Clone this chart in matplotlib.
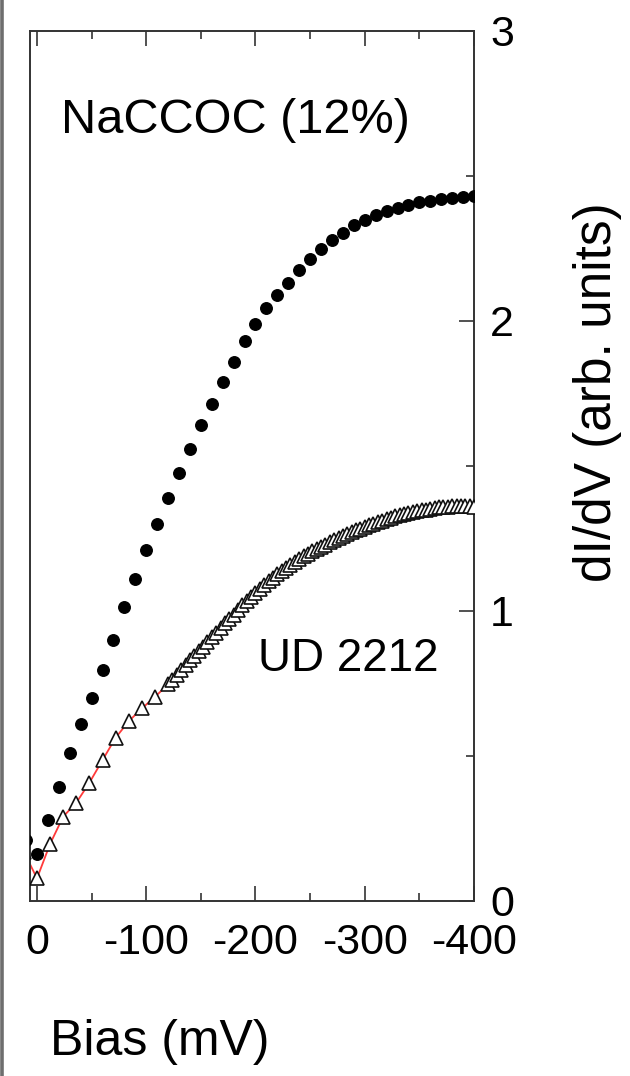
import matplotlib
matplotlib.use("Agg")
import matplotlib.pyplot as plt
from matplotlib.lines import Line2D

# ---------------- data ----------------
# NaCCOC (12%) : filled circles, bias in mV
nacc_bias = [10, 0, -10, -20, -30, -40, -50, -60, -70, -80, -90, -100, -110, -120,
             -130, -140, -150, -160, -170, -180, -190, -200, -210, -220, -230,
             -240, -250, -260, -270, -280, -290, -300, -310, -320, -330, -340,
             -350, -360, -370, -380, -390, -400]
nacc_val = [0.21, 0.161, 0.281, 0.394, 0.512, 0.61, 0.70, 0.795, 0.90, 1.015, 1.11,
            1.21, 1.30, 1.39, 1.475, 1.56, 1.64, 1.715, 1.79, 1.86, 1.93, 1.99,
            2.045, 2.09, 2.13, 2.175, 2.215, 2.25, 2.28, 2.305, 2.33, 2.35, 2.365,
            2.38, 2.39, 2.40, 2.41, 2.415, 2.42, 2.425, 2.428, 2.43]

# UD 2212 : open triangles joined by a red line
ud_bias = [12, 0, -12, -24, -36, -48, -60, -72, -84, -96, -108, -120,
           -124, -128, -132, -136, -140, -144, -148, -152, -156, -160, -164,
           -168, -172, -176, -180, -184, -188, -192, -196, -200, -204, -208,
           -212, -216, -220, -224, -228, -232, -236, -240, -244, -248, -252,
           -256, -260, -264, -268, -272, -276, -280, -284, -288, -292, -296,
           -300, -304, -308, -312, -316, -320, -324, -328, -332, -336, -340,
           -344, -348, -352, -356, -360, -364, -368, -372, -376, -380, -384,
           -388, -392, -396, -400]
ud_val = [0.17, 0.078, 0.197, 0.291, 0.339, 0.408, 0.486, 0.563, 0.62, 0.664, 0.704, 0.747,
          0.762, 0.779, 0.796, 0.813, 0.830, 0.846, 0.862, 0.877, 0.892, 0.909, 0.925,
          0.941, 0.957, 0.972, 0.987, 1.004, 1.020, 1.035, 1.049, 1.063, 1.077, 1.090,
          1.103, 1.115, 1.127, 1.138, 1.149, 1.159, 1.169, 1.179, 1.189, 1.198, 1.206,
          1.214, 1.222, 1.229, 1.237, 1.244, 1.251, 1.258, 1.265, 1.272, 1.278, 1.284,
          1.290, 1.296, 1.301, 1.306, 1.311, 1.316, 1.321, 1.326, 1.330, 1.334, 1.338,
          1.341, 1.344, 1.347, 1.350, 1.353, 1.355, 1.357, 1.359, 1.360, 1.361, 1.362,
          1.362, 1.362, 1.361, 1.360]

x_major = [0, -100, -200, -300, -400]
x_major_labels = ["0", "-100", "-200", "-300", "-400"]
x_minor = [-50, -150, -250, -350]
y_major = [0, 1, 2, 3]
y_major_labels = ["0", "1", "2", "3"]
y_minor = [0.5, 1.5, 2.5]

label_nacc = "NaCCOC (12%)"
label_ud = "UD 2212"
xlabel = "Bias (mV)"
ylabel = "dI/dV (arb. units)"

# ---------------- figure ----------------
plt.rcParams["font.family"] = ["Liberation Sans", "DejaVu Sans"]

W, H = 630, 1076
fig = plt.figure(figsize=(W / 100, H / 100), dpi=100)
L, R, T, B = 30, 474, 31, 901
ax = fig.add_axes([L / W, 1 - B / H, (R - L) / W, (B - T) / H])

ax.plot(ud_bias, ud_val, color="#ff3a3a", lw=1.3, zorder=2)
ax.plot(ud_bias, ud_val, ls="none", marker="^", ms=10, mfc="white",
        mec="#111111", mew=1.2, zorder=3)
ax.plot(nacc_bias, nacc_val, ls="none", marker="o", ms=8.3, mfc="black",
        mec="black", zorder=4)

ax.set_xlim(6.4, -400)
ax.set_ylim(0, 3)

ax.set_xticks(x_major)
ax.set_xticklabels(x_major_labels)
ax.set_xticks(x_minor, minor=True)
ax.set_yticks(y_major)
ax.set_yticklabels(y_major_labels)
ax.set_yticks(y_minor, minor=True)

ax.yaxis.tick_right()
ax.tick_params(axis="both", which="both", direction="in", width=1.2, color="#333333")
ax.tick_params(axis="both", which="major", length=10.8, labelsize=31)
ax.tick_params(axis="both", which="minor", length=5.8)
ax.tick_params(axis="x", which="both", top=True, bottom=True)
ax.tick_params(axis="y", which="both", left=False, right=True)
ax.tick_params(axis="x", which="major", pad=16)
ax.tick_params(axis="y", which="major", pad=11.5)
for s in ax.spines.values():
    s.set_linewidth(1.4)
    s.set_color("#333333")

ax.text(-181.4, 2.693, label_nacc, fontsize=35, ha="center", va="center")
ax.text(-285, 0.834, label_ud, fontsize=33, ha="center", va="center")

ax.set_xlabel(xlabel, fontsize=36, ha="left")
ax.xaxis.set_label_coords((50 - L) / (R - L), -(1042 - B) / (B - T))
ax.xaxis.label.set_va("center")

ax.yaxis.set_label_position("right")
ax.set_ylabel(ylabel, fontsize=37, rotation=90)
ax.yaxis.set_label_coords((597 - L) / (R - L), (B - 392) / (B - T))
ax.yaxis.label.set_va("center")
ax.yaxis.label.set_ha("center")
ax.yaxis.label.set_rotation_mode("anchor")

# page border at the left edge
fig.add_artist(Line2D([2 / W, 2 / W], [0, 1], transform=fig.transFigure,
                      color="#6e6e6e", lw=2.6))

fig.savefig("out.png", dpi=100)
